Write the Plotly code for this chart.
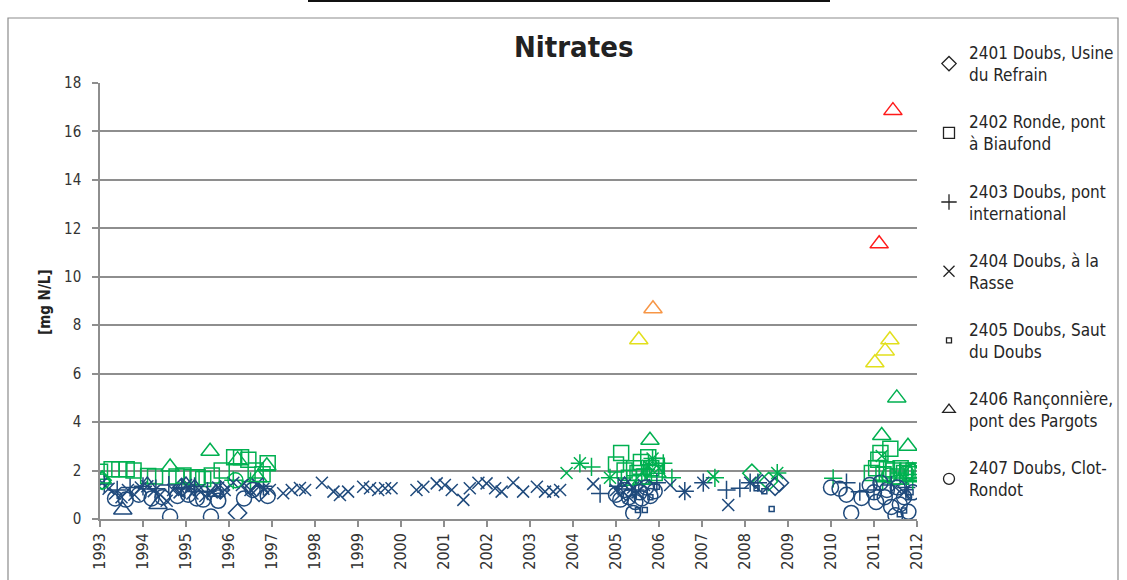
import plotly.graph_objects as go

# ---- Nitrate measurements per station (decimal year, mg N/L) ----
s2401_t = [1993.05, 1994.90, 1995.80, 1996.20, 1996.50, 1996.70,
           2008.16, 2008.40, 2008.55, 2008.70, 2008.80]
s2401_v = [1.60, 1.30, 1.20, 0.25, 1.35, 1.10,
           1.89, 1.45, 1.55, 1.35, 1.50]

s2402_t = [1993.00, 1993.27, 1993.45, 1993.62, 1993.78, 1994.12, 1994.28, 1994.78,
           1994.94, 1995.13, 1995.27, 1995.40, 1995.60, 1995.83, 1996.12, 1996.28,
           1996.45, 1996.62, 1996.78, 1996.90,
           2005.00, 2005.12, 2005.20, 2005.30, 2005.42, 2005.50, 2005.58, 2005.65,
           2005.75, 2005.82, 2005.90, 2005.95,
           2010.95, 2011.05, 2011.10, 2011.15, 2011.22, 2011.30, 2011.38, 2011.45,
           2011.55, 2011.62, 2011.70, 2011.78, 2011.85, 2011.92]
s2402_v = [1.95, 2.05, 2.05, 2.05, 2.00, 1.78, 1.75, 1.75,
           1.80, 1.72, 1.72, 1.65, 1.80, 2.00, 2.55, 2.55,
           2.45, 2.00, 1.85, 2.30,
           2.25, 2.72, 2.00, 1.70, 2.10, 1.90, 2.35, 1.75,
           2.55, 2.10, 1.90, 2.20,
           1.90, 2.10, 2.45, 2.72, 1.85, 2.05, 2.90, 2.00,
           1.75, 2.10, 1.90, 2.00, 1.85, 2.00]

s2403_t = [1993.10, 1993.40, 1993.70, 1994.00, 1994.30, 1994.60, 1994.90, 1995.20,
           1995.50, 1995.80, 1996.10, 1996.50, 1996.80,
           2004.16, 2004.43, 2004.63, 2004.86, 2005.05, 2005.25, 2005.45, 2005.60,
           2005.70, 2005.85, 2005.95, 2006.10, 2006.30, 2006.60, 2007.03, 2007.30,
           2007.57, 2007.88, 2008.12, 2008.30, 2008.75,
           2010.05, 2010.36, 2010.67, 2011.00, 2011.20, 2011.40, 2011.60, 2011.75, 2011.90]
s2403_v = [1.45, 1.20, 1.30, 1.35, 1.25, 1.40, 1.30, 1.35,
           1.15, 1.20, 1.60, 1.55, 1.35,
           2.30, 2.15, 1.05, 1.70, 1.35, 1.60, 1.20, 1.85,
           2.05, 2.50, 1.50, 2.30, 1.70, 1.15, 1.50, 1.70,
           1.20, 1.27, 1.50, 1.50, 1.90,
           1.68, 1.50, 1.13, 1.20, 1.60, 1.40, 1.90, 1.30, 1.60]

s2404_t = [1993.05, 1993.20, 1993.35, 1993.50, 1993.65, 1993.80, 1993.95, 1994.10,
           1994.25, 1994.40, 1994.55, 1994.70, 1994.85, 1995.00, 1995.15, 1995.30,
           1995.45, 1995.60, 1995.75, 1995.90, 1996.10, 1996.30, 1996.50, 1996.65,
           1996.80, 1996.95,
           1997.26, 1997.46, 1997.65, 1997.77, 1998.16, 1998.43, 1998.58, 1998.77,
           1999.12, 1999.28, 1999.47, 1999.63, 1999.78, 2000.36, 2000.52, 2000.83,
           2001.02, 2001.18, 2001.45, 2001.60, 2001.80, 2001.99, 2002.19, 2002.34,
           2002.61, 2002.84, 2003.16, 2003.35, 2003.54, 2003.70, 2003.85,
           2004.16, 2004.47, 2004.86, 2005.00, 2005.10, 2005.20, 2005.30, 2005.40,
           2005.50, 2005.65, 2005.75, 2005.85, 2006.00, 2006.26, 2006.60, 2007.03,
           2007.26, 2007.61, 2008.12, 2008.75,
           2011.18, 2011.50, 2011.70]
s2404_v = [1.50, 1.25, 1.05, 0.90, 1.20, 1.00, 1.30, 1.35,
           1.15, 1.00, 0.75, 1.20, 1.10, 1.40, 1.05, 1.20,
           0.95, 1.10, 1.30, 1.20, 1.50, 1.40, 1.20, 1.45,
           1.25, 1.20,
           1.06, 1.20, 1.28, 1.20, 1.50, 1.13, 0.99, 1.13,
           1.33, 1.27, 1.20, 1.27, 1.27, 1.20, 1.33, 1.47,
           1.40, 1.20, 0.79, 1.27, 1.50, 1.47, 1.27, 1.13,
           1.50, 1.13, 1.33, 1.13, 1.13, 1.20, 1.90,
           2.30, 1.45, 1.70, 1.20, 1.00, 1.40, 0.90, 1.30,
           1.10, 1.40, 2.20, 2.50, 2.10, 1.40, 1.13, 1.50,
           1.75, 0.58, 1.50, 1.90,
           2.60, 1.30, 1.10]

s2405_t = [2005.51, 2005.67, 2005.80, 2005.95, 2008.27, 2008.45, 2008.62,
           2011.60, 2011.70, 2011.80, 2011.85]
s2405_v = [0.37, 0.37, 0.90, 1.33, 1.27, 1.15, 0.41,
           0.20, 0.35, 0.90, 1.10]

s2406_t = [1993.05, 1993.53, 1994.10, 1994.35, 1994.63, 1995.00, 1995.20, 1995.56,
           1995.70, 1996.20, 1996.67, 1996.88,
           2005.20, 2005.53, 2005.60, 2005.79, 2005.86, 2005.95,
           2011.02, 2011.12, 2011.18, 2011.26, 2011.37, 2011.44, 2011.53, 2011.60,
           2011.79, 2011.90]
s2406_v = [1.65, 0.37, 1.40, 0.60, 2.15, 1.40, 1.30, 2.80,
           1.10, 2.45, 1.70, 2.20,
           1.40, 7.40, 1.60, 3.25, 8.68, 1.90,
           6.45, 11.36, 3.45, 6.94, 7.40, 16.86, 5.00, 1.60,
           3.00, 2.00]

s2407_t = [1993.05, 1993.35, 1993.60, 1993.90, 1994.20, 1994.45, 1994.63, 1994.80,
           1995.05, 1995.25, 1995.40, 1995.58, 1995.75, 1996.15, 1996.35, 1996.55,
           1996.90,
           2005.00, 2005.10, 2005.20, 2005.30, 2005.40, 2005.45, 2005.55, 2005.60,
           2005.70, 2005.80, 2005.90,
           2010.00, 2010.20, 2010.36, 2010.47, 2010.71, 2010.90, 2011.00, 2011.05,
           2011.15, 2011.25, 2011.30, 2011.35, 2011.40, 2011.50, 2011.55, 2011.60,
           2011.70, 2011.75, 2011.80, 2011.88, 2011.90]
s2407_v = [1.55, 0.85, 0.80, 1.00, 0.85, 0.90, 0.10, 0.95,
           1.00, 0.85, 0.80, 0.10, 0.75, 1.60, 0.85, 1.20,
           0.95,
           1.00, 0.80, 1.20, 0.90, 0.25, 0.70, 1.10, 0.85,
           1.30, 0.95, 1.15,
           1.30, 1.25, 1.00, 0.25, 0.87, 1.40, 1.10, 0.70,
           1.50, 0.90, 1.20, 1.80, 0.50, 0.15, 1.30, 0.60,
           0.90, 1.90, 0.30, 1.95, 1.10]

station_names = [
    "2401 Doubs, Usine<br>du Refrain",
    "2402 Ronde, pont<br>à Biaufond",
    "2403 Doubs, pont<br>international",
    "2404 Doubs, à la<br>Rasse",
    "2405 Doubs, Saut<br>du Doubs",
    "2406 Rançonnière,<br>pont des Pargots",
    "2407 Doubs, Clot-<br>Rondot",
]
year_ticks = list(range(1993, 2013))
y_ticks = list(range(0, 19, 2))

# quality class limits (mg N/L) and their colours
class_limits = [1.5, 5.6, 8.4, 11.2]
class_colors = ["#1F4A7C", "#00B050", "#E2DF1C", "#F79646", "#FF1A1A"]


def quality_color(v):
    for lim, col in zip(class_limits, class_colors):
        if v <= lim:
            return col
    return class_colors[-1]


series = [
    (s2401_t, s2401_v, "diamond-open", 14),
    (s2402_t, s2402_v, "square-open", 15),
    (s2403_t, s2403_v, "cross-thin-open", 13),
    (s2404_t, s2404_v, "x-thin-open", 12),
    (s2405_t, s2405_v, "square-open", 5),
    (s2406_t, s2406_v, "triangle-up-open", 16),
    (s2407_t, s2407_v, "circle-open", 15),
]

FONT = "DejaVu Sans Condensed, Liberation Sans, sans-serif"
fig = go.Figure()

for (t, v, sym, size), name in zip(series, station_names):
    fig.add_trace(go.Scatter(
        x=t, y=v, mode="markers", showlegend=False, hoverinfo="x+y",
        marker=dict(symbol=sym, size=size,
                    color=[quality_color(val) for val in v],
                    line=dict(width=1.5)),
    ))

# black legend keys
for (t, v, sym, size), name in zip(series, station_names):
    fig.add_trace(go.Scatter(
        x=[None], y=[None], mode="markers", name=name, legendgroup=name,
        marker=dict(symbol=sym, size=min(size, 11) if size > 6 else 5,
                    color="#222222", line=dict(width=1.3, color="#222222")),
    ))

L, R, T, B = 100, 210, 83, 61
W, H = 1127, 580
pw, ph = W - L - R, H - T - B


def px_x(x):
    return (x - L) / pw


def px_y(y):
    return (H - B - y) / ph


fig.update_layout(
    width=W, height=H,
    margin=dict(l=L, r=R, t=T, b=B, autoexpand=False),
    paper_bgcolor="white", plot_bgcolor="white",
    font=dict(family=FONT, color="#333333", size=14),
    legend=dict(x=px_x(929), y=px_y(35), xanchor="left", yanchor="top",
                font=dict(family=FONT, size=17, color="#262626"),
                tracegroupgap=22, itemwidth=30, maxheight=560,
                bgcolor="rgba(0,0,0,0)"),
    xaxis=dict(range=[1993, 2012], tickvals=year_ticks,
               ticktext=[str(y) for y in year_ticks], tickangle=-90,
               showgrid=False, zeroline=False, showline=True,
               linecolor="#8e8e8e", linewidth=1.5,
               ticks="outside", ticklen=6, tickcolor="#8e8e8e", tickwidth=1.5,
               tickfont=dict(family=FONT, size=16, color="#333333")),
    yaxis=dict(range=[0, 18], tickvals=y_ticks, showgrid=True,
               gridcolor="#8e8e8e", gridwidth=1.5, zeroline=False,
               showline=True, linecolor="#8e8e8e", linewidth=1.5,
               ticks="outside", ticklen=6, tickcolor="#8e8e8e", tickwidth=1.5,
               ticklabelstandoff=8,
               tickfont=dict(family=FONT, size=15, color="#333333")),
    annotations=[
        dict(text="<b>Nitrates</b>", xref="paper", yref="paper",
             x=px_x(573), y=px_y(47), xanchor="center", yanchor="middle",
             showarrow=False,
             font=dict(family=FONT, size=29, color="#222222")),
        dict(text="<b>[mg N/L]</b>", xref="paper", yref="paper",
             x=px_x(45), y=px_y(302), xanchor="center", yanchor="middle",
             showarrow=False, textangle=-90,
             font=dict(family=FONT, size=15, color="#222222")),
    ],
    shapes=[
        dict(type="rect", xref="paper", yref="paper",
             x0=px_x(8), x1=px_x(1118), y0=px_y(640), y1=px_y(18),
             line=dict(color="#8c8c8c", width=1.2), layer="below"),
        dict(type="line", xref="paper", yref="paper",
             x0=px_x(308), x1=px_x(830), y0=px_y(1), y1=px_y(1),
             line=dict(color="#111111", width=2)),
    ],
)

fig.write_html("out.html")
